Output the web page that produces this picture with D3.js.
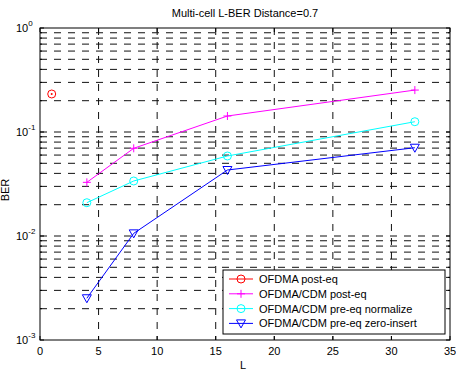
<!DOCTYPE html>
<html>
<head>
<meta charset="utf-8">
<script src="https://cdn.jsdelivr.net/npm/d3@7"></script>
<style>
  html, body { margin: 0; padding: 0; background: #fff; }
  svg { display: block; font-family: "Liberation Sans", Arial, Helvetica, sans-serif; }
</style>
</head>
<body>
<svg id="chart" width="456" height="370"></svg>
<script>
// Series data: BER versus L
const titleText = "Multi-cell L-BER Distance=0.7";
const xLabel = "L";
const yLabel = "BER";
const xTicks = [0, 5, 10, 15, 20, 25, 30, 35];
const yTickExps = [-3, -2, -1, 0];

const ofdmaL = [1];
const ofdmaPostEq = [0.232];

const cdmL = [4, 8, 16, 32];
const cdmPostEq = [0.0328, 0.0697, 0.1425, 0.253];
const cdmPreEqNormalize = [0.0209, 0.0338, 0.0588, 0.1256];
const cdmPreEqZeroInsert = [0.00252, 0.0106, 0.0431, 0.0706];

const seriesNames = [
  "OFDMA post-eq",
  "OFDMA/CDM post-eq",
  "OFDMA/CDM pre-eq normalize",
  "OFDMA/CDM pre-eq zero-insert"
];

const series = [
  { name: seriesNames[0], xs: ofdmaL, ys: ofdmaPostEq, color: "#ff0000", marker: "circle", dot: true },
  { name: seriesNames[1], xs: cdmL, ys: cdmPostEq, color: "#ff00ff", marker: "plus" },
  { name: seriesNames[2], xs: cdmL, ys: cdmPreEqNormalize, color: "#00ffff", marker: "circle" },
  { name: seriesNames[3], xs: cdmL, ys: cdmPreEqZeroInsert, color: "#0000ff", marker: "tri" }
];

const svg = d3.select("#chart");
const plotLeft = 40, plotRight = 450, plotTop = 28, plotBottom = 340;

const x = d3.scaleLinear().domain([0, 35]).range([plotLeft, plotRight]);
const y = d3.scaleLog().domain([1e-3, 1]).range([plotBottom, plotTop]);

// Grid: horizontal lines at every decade subdivision, vertical at x ticks
const gridVals = [];
yTickExps.slice(0, -1).forEach(e => {
  for (let m = 1; m <= 9; m++) gridVals.push(m * Math.pow(10, e));
});
gridVals.push(1);

const grid = svg.append("g").attr("stroke", "#111").attr("stroke-width", 1)
  .attr("stroke-dasharray", "7,7").attr("fill", "none");
grid.selectAll("line.h").data(gridVals.filter(v => v > 1e-3 && v < 1)).join("line")
  .attr("class", "h")
  .attr("x1", plotLeft).attr("x2", plotRight)
  .attr("y1", d => y(d)).attr("y2", d => y(d));
grid.selectAll("line.v").data(xTicks.filter(v => v > 0 && v < 35)).join("line")
  .attr("class", "v")
  .attr("x1", d => x(d)).attr("x2", d => x(d))
  .attr("y1", plotTop).attr("y2", plotBottom);

// Inner ticks on all four sides
const ticks = svg.append("g").attr("stroke", "#000").attr("stroke-width", 1);
xTicks.forEach(v => {
  ticks.append("line").attr("x1", x(v)).attr("x2", x(v)).attr("y1", plotBottom).attr("y2", plotBottom - 4);
  ticks.append("line").attr("x1", x(v)).attr("x2", x(v)).attr("y1", plotTop).attr("y2", plotTop + 4);
});
gridVals.forEach(v => {
  const major = Math.abs(Math.log10(v) - Math.round(Math.log10(v))) < 1e-9;
  const len = major ? 4 : 2;
  ticks.append("line").attr("x1", plotLeft).attr("x2", plotLeft + len).attr("y1", y(v)).attr("y2", y(v));
  ticks.append("line").attr("x1", plotRight).attr("x2", plotRight - len).attr("y1", y(v)).attr("y2", y(v));
});

// Frame
svg.append("rect").attr("x", plotLeft).attr("y", plotTop)
  .attr("width", plotRight - plotLeft).attr("height", plotBottom - plotTop)
  .attr("fill", "none").attr("stroke", "#000").attr("stroke-width", 1);

// Tick labels
svg.append("g").selectAll("text").data(xTicks).join("text")
  .attr("x", d => x(d)).attr("y", 355)
  .attr("text-anchor", "middle").attr("font-size", 11).attr("fill", "#000")
  .text(d => d);

const yl = svg.append("g").selectAll("text").data(yTickExps).join("text")
  .attr("x", 16).attr("y", d => y(Math.pow(10, d)) + 4)
  .attr("font-size", 11).attr("fill", "#000");
yl.append("tspan").text("10");
yl.append("tspan").attr("dy", -6).attr("font-size", 8).text(d => d);

// Title and axis labels
svg.append("text").attr("x", 245).attr("y", 17).attr("text-anchor", "middle")
  .attr("font-size", 11).attr("fill", "#000").text(titleText);
svg.append("text").attr("x", 243).attr("y", 369).attr("text-anchor", "middle")
  .attr("font-size", 11).attr("fill", "#000").text(xLabel);
svg.append("text").attr("transform", "translate(9,190) rotate(-90)")
  .attr("text-anchor", "middle").attr("font-size", 11).attr("fill", "#000").text(yLabel);

// Marker drawing
function drawMarker(g, cx, cy, s, withDot) {
  if (s.marker === "circle") {
    g.append("circle").attr("cx", cx).attr("cy", cy).attr("r", 4)
      .attr("fill", "none").attr("stroke", s.color).attr("stroke-width", 1);
    if (withDot) {
      g.append("circle").attr("cx", cx).attr("cy", cy).attr("r", 1)
        .attr("fill", s.color);
    }
  } else if (s.marker === "plus") {
    g.append("path").attr("d", `M${cx - 4},${cy}H${cx + 4}M${cx},${cy - 4}V${cy + 4}`)
      .attr("stroke", s.color).attr("stroke-width", 1).attr("fill", "none");
  } else if (s.marker === "tri") {
    g.append("path").attr("d", `M${cx - 4.5},${cy - 3.5}L${cx + 4.5},${cy - 3.5}L${cx},${cy + 4.5}Z`)
      .attr("stroke", s.color).attr("stroke-width", 1).attr("fill", "none");
  }
}

const line = d3.line().x(d => x(d[0])).y(d => y(d[1]));
const plot = svg.append("g");
series.forEach(s => {
  const pts = s.xs.map((v, i) => [v, s.ys[i]]);
  if (pts.length > 1) {
    plot.append("path").datum(pts).attr("d", line)
      .attr("fill", "none").attr("stroke", s.color).attr("stroke-width", 1);
  }
  pts.forEach(p => drawMarker(plot, x(p[0]), y(p[1]), s, s.dot));
});

// Legend
const lg = svg.append("g");
lg.append("rect").attr("x", 223).attr("y", 270).attr("width", 222).attr("height", 64)
  .attr("fill", "#fff").attr("stroke", "#000").attr("stroke-width", 1);
series.forEach((s, i) => {
  const ly = 279 + i * 14.8;
  lg.append("line").attr("x1", 229).attr("x2", 253).attr("y1", ly).attr("y2", ly)
    .attr("stroke", s.color).attr("stroke-width", 1);
  drawMarker(lg, 241, ly, s, false);
  lg.append("text").attr("x", 259).attr("y", ly + 4).attr("font-size", 11)
    .attr("fill", "#000").text(s.name);
});
</script>
</body>
</html>
